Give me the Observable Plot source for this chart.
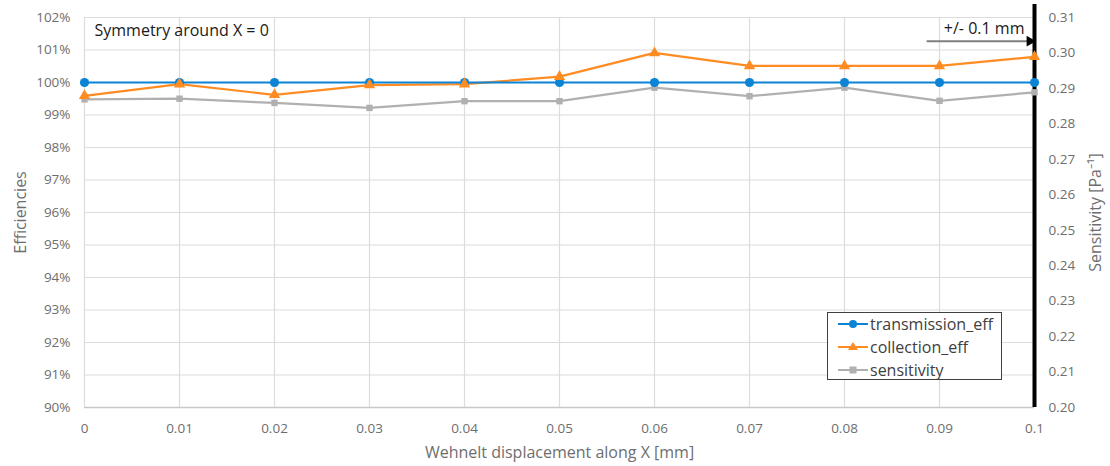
<!DOCTYPE html>
<html>
<head>
<meta charset="utf-8">
<script src="https://cdn.jsdelivr.net/npm/d3@7"></script>
<script src="https://cdn.jsdelivr.net/npm/@observablehq/plot@0.6"></script>
<style>
  html, body { margin: 0; padding: 0; background: #fff; }
  #wrap { position: relative; width: 1110px; height: 466px; font-family: "Open Sans", sans-serif; }
  #legend { position: absolute; left: 827px; top: 312px; width: 173px; height: 66px; border: 1.5px solid #404040; background: #fff; box-sizing: content-box; }
  #legend .row { position: absolute; left: 10px; height: 20px; display: flex; align-items: center; font-size: 16px; color: #404040; }
  #legend svg { margin-right: 2px; }
</style>
</head>
<body>
<div id="wrap"></div>
<script>
const xValues = [0, 0.01, 0.02, 0.03, 0.04, 0.05, 0.06, 0.07, 0.08, 0.09, 0.1];
const xTickLabels = ["0", "0.01", "0.02", "0.03", "0.04", "0.05", "0.06", "0.07", "0.08", "0.09", "0.1"];
const transmissionEff = [100, 100, 100, 100, 100, 100, 100, 100, 100, 100, 100];
const collectionEff = [99.59, 99.95, 99.62, 99.92, 99.95, 100.18, 100.91, 100.51, 100.51, 100.51, 100.79];
const sensitivity = [0.2869, 0.2871, 0.2859, 0.2845, 0.2864, 0.2864, 0.2902, 0.2878, 0.2902, 0.2865, 0.2889];
const leftTicks = [90, 91, 92, 93, 94, 95, 96, 97, 98, 99, 100, 101, 102];
const rightTicks = [0.20, 0.21, 0.22, 0.23, 0.24, 0.25, 0.26, 0.27, 0.28, 0.29, 0.30, 0.31];
const seriesNames = ["transmission_eff", "collection_eff", "sensitivity"];
const seriesColors = ["#0b84d6", "#ff8c22", "#b0b0b0"];
const annotationText = "Symmetry around X = 0";
const rangeText = "+/- 0.1 mm";
const rangeArrow = {x1: 0.0887, x2: 0.0995, y: 101.27};

// map right axis (sensitivity) onto left scale
const leftDomain = [90, 102], rightDomain = [0.20, 0.31];
const toLeft = s => leftDomain[0] + (s - rightDomain[0]) / (rightDomain[1] - rightDomain[0]) * (leftDomain[1] - leftDomain[0]);

const trans = xValues.map((x, i) => ({x, y: transmissionEff[i]}));
const coll = xValues.map((x, i) => ({x, y: collectionEff[i]}));
const sens = xValues.map((x, i) => ({x, y: toLeft(sensitivity[i])}));

const gray = "#6e6e6e";
const chart = Plot.plot({
  width: 1110,
  height: 466,
  marginLeft: 84,
  marginRight: 76,
  marginTop: 17,
  marginBottom: 59,
  style: {fontFamily: "Open Sans, sans-serif", fontSize: "13px", color: gray, background: "#fff"},
  x: {domain: [0, 0.1]},
  y: {domain: leftDomain},
  marks: [
    Plot.gridX(xValues, {stroke: "#dcdcdc", strokeOpacity: 1, strokeWidth: 1.2}),
    Plot.gridY(leftTicks, {stroke: "#dcdcdc", strokeOpacity: 1, strokeWidth: 1.2}),
    Plot.ruleY([90], {stroke: "#c8c8c8", strokeWidth: 1.5}),
    Plot.axisX(xValues, {tickSize: 0, tickPadding: 16, tickFormat: (d, i) => xTickLabels[i], fontSize: 13.5, fill: gray,
      label: "Wehnelt displacement along X [mm]", labelAnchor: "center", labelArrow: "none", labelOffset: 50}),
    Plot.axisY(leftTicks, {anchor: "left", tickSize: 0, tickPadding: 14, tickFormat: d => d + "%", fontSize: 13.5, fill: gray,
      label: "Efficiencies", labelAnchor: "center", labelArrow: "none", labelOffset: 70}),
    Plot.axisY(rightTicks.map(toLeft), {anchor: "right", tickSize: 0, tickPadding: 14,
      tickFormat: (d, i) => rightTicks[i].toFixed(2), fontSize: 13.5, fill: gray,
      label: "Sensitivity [Pa⁻¹]", labelAnchor: "center", labelArrow: "none", labelOffset: 66}),
    Plot.ruleX([0.1], {y1: 90, y2: 102.4, stroke: "#000", strokeWidth: 4, clip: false}),
    Plot.line(sens, {x: "x", y: "y", stroke: seriesColors[2], strokeWidth: 2.2}),
    Plot.dot(sens, {x: "x", y: "y", symbol: "square", fill: seriesColors[2], r: 3.6}),
    Plot.line(coll, {x: "x", y: "y", stroke: seriesColors[1], strokeWidth: 2.2}),
    Plot.line(trans, {x: "x", y: "y", stroke: seriesColors[0], strokeWidth: 2.2}),
    Plot.dot(trans, {x: "x", y: "y", symbol: "circle", fill: seriesColors[0], r: 4.6}),
    Plot.dot(coll, {x: "x", y: "y", symbol: "triangle", fill: seriesColors[1], r: 4.2}),
    Plot.text([annotationText], {x: 0, y: 102, dx: 10, dy: 13, text: d => d, textAnchor: "start", fontSize: 16, fill: "#1a1a1a"}),
    Plot.ruleY([rangeArrow], {x1: "x1", x2: "x2", y: "y", stroke: "#7f7f7f", strokeWidth: 2}),
    Plot.dot([rangeArrow], {x: "x2", y: "y", symbol: "triangle", rotate: 90, fill: "#000", r: 4}),
    Plot.text([rangeText], {x: 0.0947, y: 101.27, dy: -12, text: d => d, fontSize: 16, fill: "#1a1a1a"})
  ]
});

// enlarge axis titles
d3.select(chart).selectAll('g[aria-label$="axis label"]').attr("font-size", 16).selectAll("text").attr("font-size", 16);

const wrap = document.getElementById("wrap");
wrap.appendChild(chart);

const legend = document.createElement("div");
legend.id = "legend";
const symbols = [
  c => `<circle cx="15" cy="7" r="4" fill="${c}"/>`,
  c => `<path d="M15,2 L20,10 L10,10 Z" fill="${c}"/>`,
  c => `<rect x="11.5" y="3.5" width="7" height="7" fill="${c}"/>`
];
seriesNames.forEach((name, i) => {
  const row = document.createElement("div");
  row.className = "row";
  row.style.top = (1 + i * 23) + "px";
  row.innerHTML = `<svg width="30" height="14"><line x1="0" y1="7" x2="30" y2="7" stroke="${seriesColors[i]}" stroke-width="2"/>${symbols[i](seriesColors[i])}</svg><span>${name}</span>`;
  legend.appendChild(row);
});
wrap.appendChild(legend);
</script>
</body>
</html>
